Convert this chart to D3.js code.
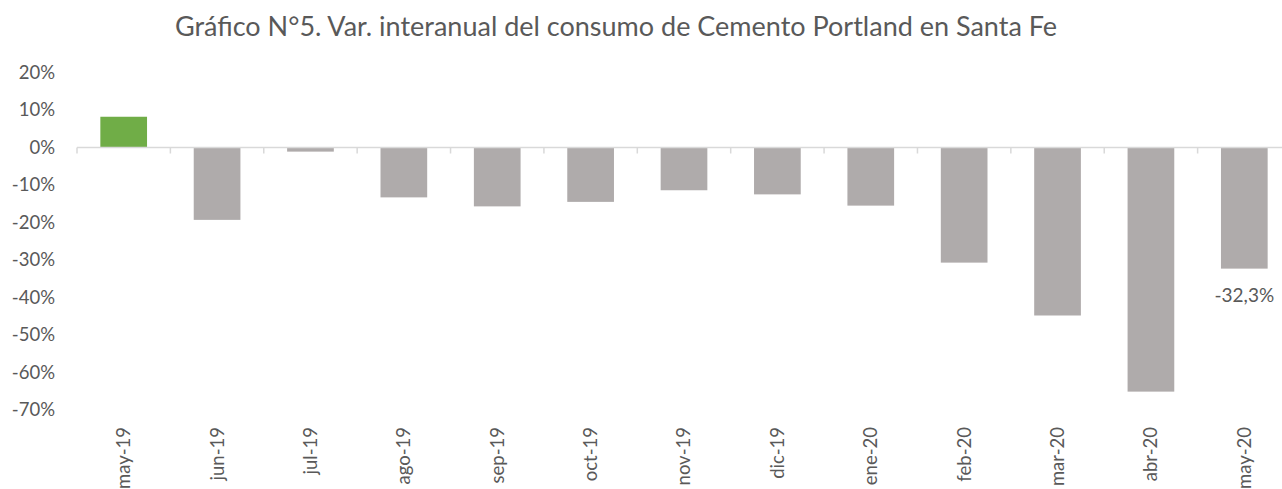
<!DOCTYPE html>
<html>
<head>
<meta charset="utf-8">
<script src="https://cdn.jsdelivr.net/npm/d3@7"></script>
<style>
    body { margin: 0; background: #fff; }
    svg text { font-family: Lato, "Noto Sans", sans-serif; fill: #595959; }
</style>
</head>
<body>
<div id="chart"></div>
<script>
// Var. interanual del consumo de Cemento Portland, Santa Fe (%)
const months = ["may-19", "jun-19", "jul-19", "ago-19", "sep-19", "oct-19", "nov-19",
    "dic-19", "ene-20", "feb-20", "mar-20", "abr-20", "may-20"];
const values = [8.2, -19.3, -1.1, -13.3, -15.7, -14.5, -11.4, -12.5, -15.5, -30.7, -44.8, -65.1, -32.3];
const yTicks = [20, 10, 0, -10, -20, -30, -40, -50, -60, -70];
const title = "Gráfico N°5. Var. interanual del consumo de Cemento Portland en Santa Fe";
const lastLabel = "-32,3%";

const width = 1282;
const height = 489;

const x = d3.scaleBand()
    .domain(months)
    .range([77, 1291])
    .paddingInner(0.5)
    .paddingOuter(0.25);

const y = d3.scaleLinear()
    .domain([-70, 20])
    .range([410, 72.5]);

const svg = d3.select("#chart").append("svg")
    .attr("width", width)
    .attr("height", height);

// Title
svg.append("text")
    .attr("x", 616)
    .attr("y", 36)
    .attr("text-anchor", "middle")
    .style("font-size", "27px")
    .text(title);

// Y tick labels (no axis line in the original)
svg.append("g")
    .selectAll("text")
    .data(yTicks)
    .join("text")
    .attr("x", 55)
    .attr("y", d => y(d))
    .attr("dy", "0.35em")
    .attr("text-anchor", "end")
    .style("font-size", "18.5px")
    .text(d => d + "%");

// Bars
svg.append("g")
    .selectAll("rect")
    .data(values)
    .join("rect")
    .attr("x", (d, i) => x(months[i]))
    .attr("width", x.bandwidth())
    .attr("y", d => y(Math.max(0, d)))
    .attr("height", d => Math.abs(y(d) - y(0)))
    .attr("fill", (d, i) => i === 0 ? "#70AD47" : "#AFABAB");

// Zero line with tick marks between categories
const zero = y(0);
const boundaries = months.map(m => x(m) - x.step() * x.paddingOuter());
svg.append("line")
    .attr("x1", 77)
    .attr("x2", 1291)
    .attr("y1", zero)
    .attr("y2", zero)
    .attr("stroke", "#d9d9d9")
    .attr("stroke-width", 1.5);

svg.append("g")
    .selectAll("line")
    .data(boundaries)
    .join("line")
    .attr("x1", d => d)
    .attr("x2", d => d)
    .attr("y1", zero)
    .attr("y2", zero + 6)
    .attr("stroke", "#d9d9d9")
    .attr("stroke-width", 1.5);

// Category labels, rotated
svg.append("g")
    .selectAll("text")
    .data(months)
    .join("text")
    .attr("transform", d => `translate(${x(d) + x.bandwidth() / 2}, 427) rotate(-90)`)
    .attr("dy", "0.35em")
    .attr("text-anchor", "end")
    .style("font-size", "18.5px")
    .text(d => d);

// Data label on the last bar
const last = months.length - 1;
svg.append("text")
    .attr("x", x(months[last]) + x.bandwidth() / 2)
    .attr("y", y(values[last]) + 33)
    .attr("text-anchor", "middle")
    .style("font-size", "19px")
    .text(lastLabel);
</script>
</body>
</html>
